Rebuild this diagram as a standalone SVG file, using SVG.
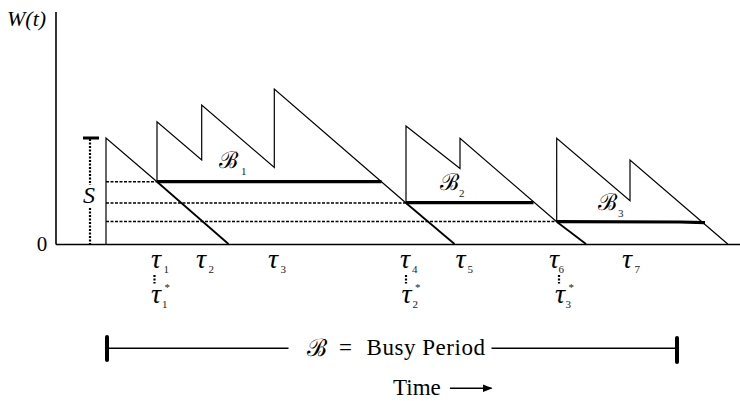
<svg xmlns="http://www.w3.org/2000/svg" width="740" height="401" viewBox="0 0 740 401">
<style>
.ln{fill:none;stroke:#000;stroke-width:1.2}
.dia{fill:none;stroke:#000;stroke-width:1.8}
.dash{fill:none;stroke:#000;stroke-width:1.6;stroke-dasharray:3,1.5}
.vd{fill:none;stroke:#000;stroke-width:2.2;stroke-dasharray:2,1.5}
.thick{fill:none;stroke:#000;stroke-width:3.2}
.cap{fill:none;stroke:#000;stroke-width:4;stroke-linecap:round}
.f{font-family:'Liberation Serif',serif}
.tau{font-family:'Liberation Serif',serif;font-style:italic;font-size:28px}
.sub{font-family:'Liberation Serif',serif;font-size:11px;fill:#222}
</style>
<defs>
<marker id="ah" viewBox="0 0 10 10" refX="9" refY="5" markerWidth="10" markerHeight="10" markerUnits="userSpaceOnUse" orient="auto">
<path d="M0,1 L10,5 L0,9 Z" fill="#000"/>
</marker>
</defs>
<rect width="740" height="401" fill="#fff"/>

<g id="axes">
<line x1="56" y1="12" x2="56" y2="244.5" class="ln" style="stroke-width:1.6"/>
<line x1="56" y1="244.5" x2="740" y2="244.5" class="ln" style="stroke-width:1.6"/>
<text x="42" y="251" class="f" font-size="21" text-anchor="middle">0</text>
<text x="7" y="26" class="f" font-size="22" font-style="italic">W(t)</text>
</g>

<g id="service-S">
<line x1="83" y1="138" x2="99" y2="138" stroke="#000" stroke-width="3"/>
<line x1="90" y1="139" x2="90" y2="185" class="vd"/>
<line x1="90" y1="208" x2="90" y2="244" class="vd"/>
<text x="89" y="203" class="f" font-size="24" font-style="italic" text-anchor="middle">S</text>
</g>

<g id="dashed-levels">
<line x1="106" y1="181.7" x2="157" y2="181.7" class="dash"/>
<line x1="106" y1="203" x2="406" y2="203" class="dash"/>
<line x1="106" y1="221.5" x2="557" y2="221.5" class="dash"/>
</g>

<g id="workload">
<path class="ln" d="M106,244 V138 L157,181.7"/>
<path class="dia" d="M157,181.7 L228.5,244"/>
<path class="ln" d="M157,181.7 V121.7 L201.7,160 V105 L274.3,167.5 V89 L406,203"/>
<path class="dia" d="M406,203 L454.5,244"/>
<path class="ln" d="M406,203 V126 L460,168.5 V138.3 L556.7,221.7"/>
<path class="dia" d="M556.7,221.7 L586,244"/>
<path class="ln" d="M556.7,221.7 V138.3 L630,200.7 V160 L727.7,244"/>
</g>

<g id="busy-subperiods">
<line x1="157" y1="181.7" x2="381.5" y2="181.7" class="thick"/>
<line x1="406" y1="202.6" x2="533.5" y2="202.6" class="thick"/>
<path d="M557,221.6 L680,222 L705,222.6" class="thick"/>
<text x="219" y="168" class="f" font-size="23">ℬ</text>
<text x="241" y="175" class="sub" font-size="12">1</text>
<text x="440" y="190" class="f" font-size="23">ℬ</text>
<text x="459" y="197" class="sub" font-size="12">2</text>
<text x="598" y="210" class="f" font-size="23">ℬ</text>
<text x="618" y="217" class="sub" font-size="12">3</text>
</g>

<g id="tau-labels">
<text x="151" y="268" class="tau">τ</text><text x="163.5" y="273" class="sub">1</text>
<text x="196" y="268" class="tau">τ</text><text x="208.5" y="273" class="sub">2</text>
<text x="268" y="268" class="tau">τ</text><text x="280.5" y="273" class="sub">3</text>
<text x="400" y="268" class="tau">τ</text><text x="412" y="273" class="sub">4</text>
<text x="455.5" y="268" class="tau">τ</text><text x="467.5" y="273" class="sub">5</text>
<text x="549" y="268" class="tau">τ</text><text x="558.5" y="273" class="sub">6</text>
<text x="622" y="268" class="tau">τ</text><text x="634.5" y="273" class="sub">7</text>

<line x1="154.5" y1="275" x2="154.5" y2="283.5" class="vd"/>
<line x1="406" y1="275" x2="406" y2="283.5" class="vd"/>
<line x1="559" y1="275" x2="559" y2="283.5" class="vd"/>

<text x="151" y="303" class="tau">τ</text><text x="164.5" y="291" class="sub" font-size="9">*</text><text x="162" y="308" class="sub">1</text>
<text x="401.5" y="303" class="tau">τ</text><text x="415" y="291" class="sub" font-size="9">*</text><text x="412.5" y="308" class="sub">2</text>
<text x="555" y="303" class="tau">τ</text><text x="568.5" y="291" class="sub" font-size="9">*</text><text x="565.5" y="308" class="sub">3</text>
</g>

<g id="busy-period">
<line x1="107" y1="348.3" x2="288.5" y2="348.3" class="ln" style="stroke-width:1.5"/>
<line x1="491.5" y1="348.3" x2="677" y2="348.3" class="ln" style="stroke-width:1.5"/>
<line x1="107" y1="337" x2="107" y2="360" class="cap"/>
<line x1="677" y1="338" x2="677" y2="362" class="cap"/>
<text x="307" y="356" class="f" font-size="24">ℬ</text>
<text x="339" y="355" class="f" font-size="23">=</text>
<text x="366.5" y="355" class="f" font-size="23" textLength="118.5">Busy Period</text>
</g>

<g id="time-axis-label">
<text x="393" y="395" class="f" font-size="23">Time</text>
<line x1="450" y1="388.3" x2="491.5" y2="388.3" stroke="#000" stroke-width="1.5" marker-end="url(#ah)"/>
</g>
</svg>
